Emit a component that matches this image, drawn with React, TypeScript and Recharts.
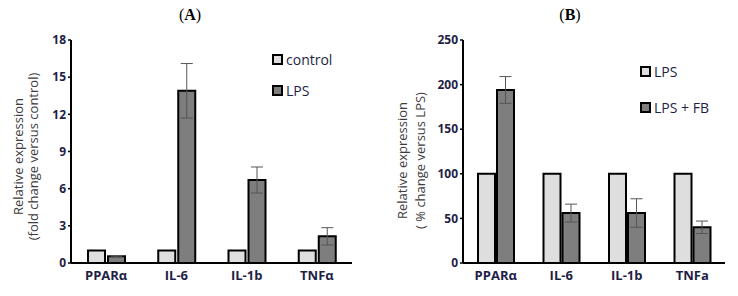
import React from 'react';
import { BarChart, Bar, XAxis, YAxis, ErrorBar } from 'recharts';

const genesA = ['PPARα', 'IL-6', 'IL-1b', 'TNFα'];
const controlA = [1, 1, 1, 1];
const lpsA = [0.55, 13.9, 6.7, 2.15];
const lpsErrA = [0.05, 2.2, 1.05, 0.7];
const ticksA = [0, 3, 6, 9, 12, 15, 18];
const seriesNamesA = ['control', 'LPS'];

const genesB = ['PPARα', 'IL-6', 'IL-1b', 'TNFa'];
const lpsB = [100, 100, 100, 100];
const lpsFbB = [194, 56, 56, 40];
const lpsFbErrB = [15, 10, 16, 7];
const ticksB = [0, 50, 100, 150, 200, 250];
const seriesNamesB = ['LPS', 'LPS + FB'];

const dataA = genesA.map((g, i) => ({ gene: g, control: controlA[i], lps: lpsA[i], err: lpsErrA[i] }));
const dataB = genesB.map((g, i) => ({ gene: g, lps: lpsB[i], fb: lpsFbB[i], err: lpsFbErrB[i] }));

const FONT = "'Open Sans', 'Noto Sans', sans-serif";
const NAVY = '#1e1e46';
const LIGHT = '#dedede';
const DARK = '#7e7e7e';

const makeYLabel = (lines: string[], xs: number[], dy: number) => (props: any) => {
  const vb = props.viewBox || {};
  const cy = vb.y + vb.height / 2 + dy;
  return (
    <g>
      {lines.map((l, i) => {
        const cx = vb.x + xs[i];
        return (
          <text
            key={i}
            x={cx}
            y={cy}
            transform={`rotate(-90 ${cx} ${cy})`}
            textAnchor="middle"
            dominantBaseline="central"
            fontFamily={FONT}
            fontSize={13}
            fill="#3c3c3c"
          >
            {l}
          </text>
        );
      })}
    </g>
  );
};

const LegendBox = ({ items, fills, left, tops }: { items: string[]; fills: string[]; left: number; tops: number[] }) => (
  <>
    {items.map((name, i) => (
      <div
        key={name}
        style={{
          position: 'absolute',
          left,
          top: tops[i] - 9,
          height: 18,
          display: 'flex',
          alignItems: 'center',
          fontFamily: FONT,
          fontSize: 14,
          color: NAVY,
          whiteSpace: 'nowrap',
        }}
      >
        <span
          style={{
            display: 'inline-block',
            width: 7,
            height: 7,
            border: '2px solid #000',
            background: fills[i],
            marginRight: 3,
          }}
        />
        {name}
      </div>
    ))}
  </>
);

const Title = ({ letter, cx }: { letter: string; cx: number }) => (
  <div
    style={{
      position: 'absolute',
      left: cx - 40,
      width: 80,
      top: 6,
      textAlign: 'center',
      fontFamily: "'Liberation Serif', 'DejaVu Serif', serif",
      fontSize: 16,
      color: '#000',
    }}
  >
    (<b>{letter}</b>)
  </div>
);

const xTick = { fontFamily: FONT, fontSize: 13, fontWeight: 700, fill: NAVY };
const yTick = { fontFamily: FONT, fontSize: 12, fontWeight: 700, fill: NAVY };

export default function App() {
  return (
    <div style={{ position: 'absolute', left: 0, top: 0, width: 738, height: 296, background: '#fff', overflow: 'hidden' }}>
      <Title letter="A" cx={190} />
      <Title letter="B" cx={570} />
      <div style={{ position: 'absolute', left: 0, top: 0 }}>
        <BarChart width={370} height={296} data={dataA} margin={{ top: 40, right: 18, bottom: 3, left: 0 }} barGap={3} barSize={17}>
          <XAxis
            dataKey="gene"
            height={30}
            tick={xTick}
            tickLine={false}
            axisLine={{ stroke: '#000', strokeWidth: 2 }}
            interval={0}
          />
          <YAxis
            width={71}
            domain={[0, 18]}
            ticks={ticksA}
            interval={0}
            tick={yTick}
            tickSize={3}
            tickLine={{ stroke: '#000', strokeWidth: 1.5 }}
            axisLine={{ stroke: '#000', strokeWidth: 2 }}
            label={makeYLabel(['Relative expression', '(fold change versus control)'], [18, 33], 5)}
          />
          <Bar dataKey="control" fill={LIGHT} stroke="#000" strokeWidth={2} isAnimationActive={false} />
          <Bar dataKey="lps" fill={DARK} stroke="#000" strokeWidth={2} isAnimationActive={false}>
            <ErrorBar dataKey="err" width={6} stroke="#555" strokeWidth={1} />
          </Bar>
        </BarChart>
      </div>
      <div style={{ position: 'absolute', left: 370, top: 0 }}>
        <BarChart width={368} height={296} data={dataB} margin={{ top: 40, right: 13, bottom: 3, left: 0 }} barGap={2} barSize={17}>
          <XAxis
            dataKey="gene"
            height={30}
            tick={xTick}
            tickLine={false}
            axisLine={{ stroke: '#000', strokeWidth: 2 }}
            interval={0}
          />
          <YAxis
            width={93}
            domain={[0, 250]}
            ticks={ticksB}
            interval={0}
            tick={yTick}
            tickSize={3}
            tickLine={{ stroke: '#000', strokeWidth: 1.5 }}
            axisLine={{ stroke: '#000', strokeWidth: 2 }}
            label={makeYLabel(['Relative expression', '( % change versus LPS)'], [32, 50], 9)}
          />
          <Bar dataKey="lps" fill={LIGHT} stroke="#000" strokeWidth={2} isAnimationActive={false} />
          <Bar dataKey="fb" fill={DARK} stroke="#000" strokeWidth={2} isAnimationActive={false}>
            <ErrorBar dataKey="err" width={6} stroke="#555" strokeWidth={1} />
          </Bar>
        </BarChart>
      </div>
      <LegendBox items={seriesNamesA} fills={[LIGHT, DARK]} left={272} tops={[59, 90]} />
      <LegendBox items={seriesNamesB} fills={[LIGHT, DARK]} left={640} tops={[71, 107]} />
    </div>
  );
}
